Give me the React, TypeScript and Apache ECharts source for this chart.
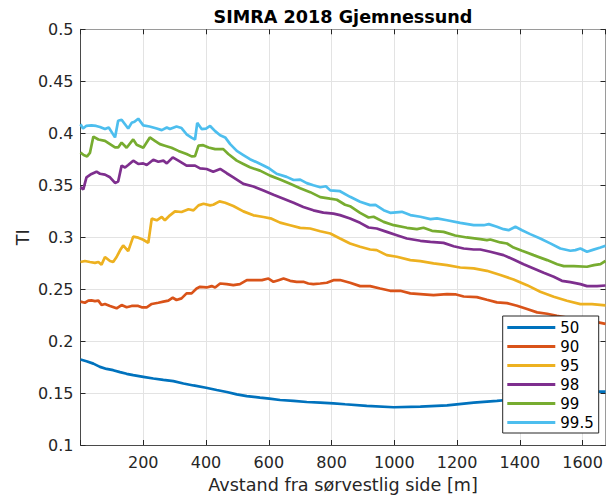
import React, { useEffect, useRef } from 'react';
import * as echarts from 'echarts';

const FONT = '"DejaVu Sans", sans-serif';
const TITLE = 'SIMRA 2018 Gjemnessund';
const X_NAME = 'Avstand fra sørvestlig side [m]';
const Y_NAME = 'TI';
const SERIES_NAMES = ['50', '90', '95', '98', '99', '99.5'];
const COLORS = ['#0072BD', '#D95319', '#EDB120', '#7E2F8E', '#77AC30', '#4DBEEE'];
const X_MIN = 0, X_MAX = 1673, X_STEP = 200;
const Y_MIN = 0.1, Y_MAX = 0.5, Y_STEP = 0.05;

const p50: [number, number][] = [
  [0,0.1822],[19,0.1806],[41,0.1783],[62,0.1752],[83,0.1732],[104,0.172],[126,0.1701],[147,0.1685],
  [168,0.1672],[200,0.1656],[232,0.164],[264,0.1627],[296,0.1615],[328,0.1592],[360,0.1573],[400,0.1551],
  [434,0.1529],[466,0.151],[498,0.1487],[530,0.1471],[572,0.1455],[602,0.1446],[636,0.1433],[679,0.1424],
  [721,0.1414],[764,0.1408],[806,0.1401],[843,0.1392],[912,0.1376],[998,0.1363],[1083,0.137],[1168,0.1382],
  [1253,0.1408],[1327,0.1424],[1359,0.1433],[1420,0.1445],[1480,0.146],[1540,0.148],[1600,0.150],[1651,0.1513],[1673,0.1513],
];
const p90: [number, number][] = [
  [0,0.2379],[14,0.2369],[25,0.2389],[35,0.2392],[46,0.2385],[57,0.2389],[67,0.2347],[78,0.2357],[94,0.2338],
  [115,0.2315],[131,0.2347],[147,0.2325],[163,0.2338],[184,0.2338],[195,0.2325],[211,0.2325],[227,0.2357],
  [248,0.2369],[264,0.2379],[280,0.2389],[294,0.2417],[306,0.2395],[322,0.2411],[338,0.2459],[354,0.2459],
  [370,0.2506],[381,0.2522],[402,0.2516],[418,0.2529],[429,0.2516],[445,0.2554],[466,0.2548],[487,0.2538],
  [508,0.2548],[530,0.2586],[551,0.2586],[578,0.2586],[599,0.2602],[615,0.257],[631,0.2586],[647,0.2602],
  [668,0.258],[689,0.257],[710,0.257],[726,0.2554],[742,0.2548],[764,0.2554],[785,0.2561],[806,0.2586],
  [827,0.2587],[859,0.2561],[891,0.2529],[923,0.2529],[955,0.2506],[987,0.2484],[1019,0.2484],[1051,0.2459],
  [1093,0.245],[1125,0.2442],[1168,0.2452],[1194,0.245],[1221,0.2429],[1263,0.2423],[1295,0.2397],[1327,0.2372],
  [1359,0.2365],[1391,0.234],[1423,0.2308],[1455,0.2276],[1487,0.2263],[1518,0.2244],[1550,0.2225],[1590,0.221],
  [1620,0.219],[1646,0.2182],[1673,0.2166],
];
const p95: [number, number][] = [
  [0,0.2761],[14,0.2771],[30,0.2761],[46,0.2752],[57,0.2761],[67,0.2736],[78,0.2809],[94,0.2771],[104,0.2761],
  [115,0.2809],[126,0.2873],[136,0.292],[152,0.2866],[168,0.3005],[184,0.2995],[200,0.2975],[216,0.2945],
  [227,0.3178],[243,0.3162],[259,0.3194],[269,0.3162],[285,0.321],[301,0.3248],[322,0.3242],[344,0.3268],
  [360,0.3258],[376,0.3306],[392,0.3322],[413,0.3306],[423,0.3312],[443,0.3344],[461,0.3331],[487,0.330],
  [519,0.3248],[551,0.321],[583,0.3194],[609,0.3178],[636,0.314],[668,0.3115],[700,0.3089],[732,0.3083],
  [764,0.3057],[796,0.3035],[827,0.2987],[859,0.2939],[891,0.2907],[923,0.2881],[944,0.2875],[976,0.2827],
  [1008,0.2811],[1051,0.2779],[1083,0.2769],[1125,0.2747],[1168,0.2731],[1210,0.2708],[1253,0.2699],[1295,0.2676],
  [1338,0.2635],[1380,0.2593],[1423,0.2538],[1465,0.2474],[1508,0.2426],[1550,0.2388],[1593,0.2356],[1630,0.2356],[1673,0.2343],
];
const p98: [number, number][] = [
  [0,0.3481],[9,0.3459],[19,0.3576],[35,0.3608],[51,0.363],[62,0.361],[78,0.3602],[94,0.3576],[110,0.3522],
  [120,0.3535],[131,0.3688],[142,0.367],[152,0.3694],[168,0.3736],[184,0.3704],[200,0.371],[211,0.3694],
  [232,0.3745],[248,0.3726],[264,0.3736],[275,0.371],[294,0.3768],[312,0.3736],[338,0.3688],[365,0.3688],
  [381,0.3662],[402,0.3656],[423,0.363],[445,0.3656],[466,0.3615],[487,0.3576],[519,0.3513],[551,0.3487],
  [583,0.3449],[615,0.3408],[647,0.337],[679,0.3331],[710,0.329],[742,0.3258],[774,0.3236],[806,0.3226],
  [827,0.3212],[859,0.318],[891,0.3138],[918,0.3093],[944,0.3083],[976,0.3051],[1008,0.3019],[1040,0.2987],
  [1083,0.2965],[1115,0.2955],[1157,0.2945],[1189,0.2913],[1221,0.2891],[1253,0.2881],[1274,0.2881],[1306,0.2859],
  [1348,0.2827],[1380,0.2785],[1412,0.274],[1444,0.2699],[1476,0.2657],[1508,0.2619],[1534,0.258],[1561,0.2567],
  [1593,0.2548],[1614,0.2529],[1646,0.2529],[1673,0.2535],
];
const p99: [number, number][] = [
  [0,0.3815],[10,0.379],[21,0.3777],[30,0.381],[41,0.3968],[57,0.394],[78,0.3927],[94,0.3895],[110,0.3863],
  [120,0.3863],[131,0.391],[147,0.386],[168,0.394],[179,0.389],[200,0.386],[221,0.3959],[237,0.3927],[253,0.3895],
  [269,0.388],[290,0.386],[312,0.383],[338,0.380],[354,0.3777],[365,0.378],[376,0.388],[391,0.3885],[408,0.3863],
  [429,0.3847],[455,0.3847],[471,0.380],[498,0.3736],[519,0.3704],[540,0.3672],[572,0.364],[604,0.3592],
  [636,0.3554],[668,0.3513],[700,0.347],[732,0.3433],[764,0.3385],[795,0.337],[817,0.336],[843,0.3312],
  [859,0.3298],[891,0.3234],[918,0.3189],[934,0.3196],[966,0.3147],[998,0.3115],[1040,0.309],[1072,0.3077],
  [1093,0.309],[1120,0.3061],[1157,0.3051],[1194,0.3016],[1231,0.2997],[1274,0.2981],[1295,0.2971],[1306,0.2977],
  [1338,0.2949],[1359,0.2939],[1380,0.290],[1407,0.2869],[1444,0.2827],[1487,0.2779],[1519,0.274],[1540,0.2721],
  [1572,0.2721],[1614,0.2715],[1636,0.2731],[1657,0.274],[1673,0.2772],
];
const p995: [number, number][] = [
  [0,0.4086],[8,0.4045],[18,0.407],[35,0.4075],[50,0.407],[62,0.406],[78,0.404],[90,0.4055],[110,0.396],
  [120,0.412],[131,0.413],[152,0.4045],[163,0.410],[172,0.411],[184,0.414],[200,0.4076],[220,0.4065],[243,0.4045],
  [259,0.403],[275,0.4055],[285,0.404],[306,0.4065],[322,0.405],[338,0.399],[355,0.3955],[365,0.394],[372,0.410],
  [386,0.404],[400,0.4045],[413,0.407],[429,0.402],[445,0.398],[461,0.396],[477,0.3895],[498,0.383],[519,0.379],
  [540,0.375],[562,0.372],[583,0.369],[602,0.366],[625,0.361],[657,0.358],[679,0.355],[700,0.3554],[721,0.352],
  [742,0.350],[764,0.348],[782,0.349],[796,0.345],[827,0.3442],[859,0.3388],[891,0.334],[923,0.3308],[940,0.331],
  [966,0.326],[987,0.3234],[1024,0.3244],[1051,0.3212],[1083,0.3196],[1115,0.3173],[1136,0.318],[1168,0.3163],
  [1210,0.3138],[1253,0.3115],[1285,0.3115],[1301,0.3125],[1327,0.310],[1348,0.3077],[1364,0.3067],[1386,0.310],
  [1407,0.3067],[1433,0.3029],[1465,0.2987],[1497,0.294],[1529,0.2891],[1561,0.2869],[1577,0.2875],[1593,0.289],
  [1614,0.2859],[1635,0.288],[1657,0.290],[1673,0.2917],
];
const SERIES_DATA = [p50, p90, p95, p98, p99, p995];

export default function App() {
  const ref = useRef<HTMLDivElement>(null);
  useEffect(() => {
    if (!ref.current) return;
    const chart = echarts.init(ref.current, undefined, { renderer: 'svg' });
    const frameDark = '#4a4a4a';
    const frameLight = '#9a9a9a';
    const tick = { show: true, inside: true, length: 5, lineStyle: { color: '#262626', width: 1 } };
    const grid = { show: true, lineStyle: { color: '#e3e3e3', width: 1 } };
    chart.setOption({
      animation: false,
      backgroundColor: '#ffffff',
      grid: { left: 80.5, top: 29.3, right: 0.5, bottom: 50, containLabel: false },
      xAxis: [
        {
          type: 'value', min: X_MIN, max: X_MAX, interval: X_STEP,
          axisLine: { show: true, lineStyle: { color: frameDark, width: 1 } },
          axisTick: tick,
          splitLine: grid,
          axisLabel: {
            fontFamily: FONT, fontSize: 16, color: '#262626', margin: 9, lineHeight: 16,
            showMaxLabel: false,
            formatter: (v: number) => (v === 0 ? '' : String(v)),
          },
        },
        {
          type: 'value', position: 'top', min: X_MIN, max: X_MAX, interval: X_STEP,
          axisLine: { show: true, onZero: false, lineStyle: { color: frameLight, width: 1 } },
          axisTick: tick, axisLabel: { show: false }, splitLine: { show: false },
        },
      ],
      yAxis: [
        {
          type: 'value', min: Y_MIN, max: Y_MAX, interval: Y_STEP,
          axisLine: { show: true, lineStyle: { color: frameDark, width: 1 } },
          axisTick: tick,
          splitLine: grid,
          axisLabel: { fontFamily: FONT, fontSize: 16, color: '#262626', margin: 7 },
        },
        {
          type: 'value', position: 'right', min: Y_MIN, max: Y_MAX, interval: Y_STEP,
          axisLine: { show: true, onZero: false, lineStyle: { color: frameLight, width: 1 } },
          axisTick: tick, axisLabel: { show: false }, splitLine: { show: false },
        },
      ],
      legend: {
        orient: 'vertical', left: 502.7, top: 316,
        icon: 'rect', itemWidth: 48, itemHeight: 3, itemGap: 0,
        padding: [2, 5, 1, 4.6],
        borderColor: '#262626', borderWidth: 1, backgroundColor: '#ffffff',
        textStyle: { fontFamily: FONT, fontSize: 15, color: '#000000', lineHeight: 19 },
        data: SERIES_NAMES,
      },
      graphic: [
        {
          type: 'text', x: 343, y: 16.9,
          style: { text: TITLE, font: `bold 17.6px ${FONT}`, fill: '#000000', align: 'center', verticalAlign: 'middle' },
        },
        {
          type: 'text', x: 343, y: 484.9,
          style: { text: X_NAME, font: `17.6px ${FONT}`, fill: '#262626', align: 'center', verticalAlign: 'middle' },
        },
        {
          type: 'text', x: 22.6, y: 237.2, rotation: Math.PI / 2,
          style: { text: Y_NAME, font: `17.6px ${FONT}`, fill: '#262626', align: 'center', verticalAlign: 'middle' },
        },
      ],
      series: SERIES_DATA.map((d, i) => ({
        name: SERIES_NAMES[i],
        type: 'line',
        data: d,
        xAxisIndex: 0, yAxisIndex: 0,
        showSymbol: false, symbol: 'none',
        itemStyle: { color: COLORS[i] },
        lineStyle: { color: COLORS[i], width: 2.7 },
        emphasis: { disabled: true },
        z: 2 + i,
      })),
    });
    return () => chart.dispose();
  }, []);
  return <div ref={ref} style={{ position: 'fixed', left: 0, top: 0, width: 606, height: 495 }} />;
}
